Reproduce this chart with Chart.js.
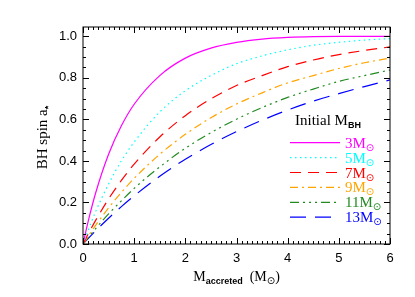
<!DOCTYPE html>
<html lang="en">
<head>
  <meta charset="UTF-8" />
  <title>BH spin vs accreted mass</title>
  <script src="https://cdn.jsdelivr.net/npm/chart.js"></script>
  <style>
    html, body { margin: 0; padding: 0; background: #fff; }
    #wrap { width: 415px; height: 297px; }
  </style>
</head>
<body>
  <div id="wrap"><canvas id="spinChart" width="415" height="297"></canvas></div>

  <script>
    // accreted mass (Msun) and BH spin for each initial BH mass
    const massAccreted = [0, 0.1, 0.25, 0.5, 0.75, 1, 1.5, 2, 2.5, 3, 3.5, 4, 4.5, 5, 5.5, 6];
    const spin3  = [0, 0.108, 0.248, 0.432, 0.569, 0.673, 0.811, 0.895, 0.943, 0.971, 0.987, 0.995, 0.999, 1.0, 1.0, 1.0];
    const spin5  = [0, 0.066, 0.158, 0.289, 0.400, 0.491, 0.636, 0.738, 0.811, 0.868, 0.906, 0.935, 0.957, 0.971, 0.982, 0.989];
    const spin7  = [0, 0.048, 0.115, 0.217, 0.306, 0.385, 0.515, 0.618, 0.699, 0.763, 0.811, 0.854, 0.886, 0.912, 0.932, 0.949];
    const spin9  = [0, 0.037, 0.091, 0.174, 0.248, 0.316, 0.432, 0.528, 0.608, 0.674, 0.728, 0.776, 0.811, 0.845, 0.873, 0.895];
    const spin11 = [0, 0.031, 0.075, 0.145, 0.208, 0.268, 0.371, 0.461, 0.536, 0.601, 0.657, 0.706, 0.746, 0.783, 0.811, 0.838];
    const spin13 = [0, 0.026, 0.064, 0.124, 0.180, 0.232, 0.326, 0.408, 0.479, 0.541, 0.596, 0.645, 0.688, 0.724, 0.758, 0.790];
    const initialMasses = [3, 5, 7, 9, 11, 13];
    const xTicks = [0, 1, 2, 3, 4, 5, 6];
    const yTicks = [0, 0.2, 0.4, 0.6, 0.8, 1.0];

    const series = [spin3, spin5, spin7, spin9, spin11, spin13];
    const colors = ['#ff00ff', '#00ffff', '#ff0000', '#ffa500', '#228b22', '#0000ff'];
    const dashes = [[], [1.5, 3.5], [11, 7], [8, 4, 2, 4], [9, 4, 2, 4, 2, 4, 2, 4], [16, 9]];

    const serif = '"Liberation Serif", "Times New Roman", serif';
    const sans = '"Liberation Sans", Arial, sans-serif';
    const sun = '10px "DejaVu Sans"';

    // draw a run of text pieces (font / baseline shift) starting at x
    function textRuns(ctx, x, y, runs, align) {
      let total = 0;
      runs.forEach(r => { ctx.font = r.font; total += ctx.measureText(r.text).width; });
      let cx = align === 'center' ? x - total / 2 : x;
      ctx.textAlign = 'left';
      ctx.textBaseline = 'alphabetic';
      runs.forEach(r => {
        ctx.font = r.font;
        ctx.fillText(r.text, cx, y + (r.dy || 0));
        cx += ctx.measureText(r.text).width;
      });
    }

    const decorations = {
      id: 'decorations',
      afterDraw(chart) {
        const { ctx, chartArea: a, scales: { x, y } } = chart;
        ctx.save();
        ctx.strokeStyle = '#000';
        ctx.lineWidth = 1;
        ctx.strokeRect(a.left, a.top, a.width, a.height);

        ctx.beginPath();
        const tickY = (v, len) => {
          const py = Math.round(y.getPixelForValue(v)) + 0.5;
          ctx.moveTo(a.left, py); ctx.lineTo(a.left + len, py);
          ctx.moveTo(a.right, py); ctx.lineTo(a.right - len, py);
        };
        const tickX = (v, len) => {
          const px = Math.round(x.getPixelForValue(v)) + 0.5;
          ctx.moveTo(px, a.bottom); ctx.lineTo(px, a.bottom - len);
          ctx.moveTo(px, a.top); ctx.lineTo(px, a.top + len);
        };
        for (let i = 0; i <= 20; i++) tickY(i * 0.05, i % 4 === 0 ? 6 : 3);
        for (let i = 0; i <= 60; i++) tickX(i * 0.1, i % 10 === 0 ? 6 : 3);
        ctx.stroke();

        ctx.fillStyle = '#000';
        // x title
        textRuns(ctx, (a.left + a.right) / 2, 281, [
          { text: 'M', font: '14px ' + serif },
          { text: 'accreted', font: 'bold 9px ' + sans, dy: 3 },
          { text: '  (M', font: '14px ' + serif },
          { text: '⊙', font: sun, dy: 3 },
          { text: ')', font: '14px ' + serif }
        ], 'center');

        // y title
        ctx.save();
        ctx.translate(46.5, (a.top + a.bottom) / 2 + 2);
        ctx.rotate(-Math.PI / 2);
        textRuns(ctx, 0, 0, [
          { text: 'BH spin a', font: '15px ' + serif },
          { text: '*', font: 'bold 9px ' + sans, dy: 4 }
        ], 'center');
        ctx.restore();

        // legend
        textRuns(ctx, 295, 125, [
          { text: 'Initial M', font: '15px ' + serif },
          { text: 'BH', font: 'bold 9px ' + sans, dy: 3 }
        ], 'left');
        chart.data.datasets.forEach((ds, i) => {
          const ly = 142.7 + i * 14.9;
          ctx.beginPath();
          ctx.strokeStyle = ds.borderColor;
          ctx.lineWidth = ds.borderWidth;
          ctx.setLineDash(ds.borderDash);
          ctx.moveTo(290, ly); ctx.lineTo(340, ly);
          ctx.stroke();
          ctx.setLineDash([]);
          ctx.fillStyle = ds.borderColor;
          textRuns(ctx, 345, ly + 5, [
            { text: initialMasses[i] + 'M', font: '15px ' + serif },
            { text: '⊙', font: sun, dy: 3 }
          ], 'left');
        });
        ctx.restore();
      }
    };

    new Chart(document.getElementById('spinChart'), {
      type: 'line',
      data: {
        datasets: series.map((s, i) => ({
          label: initialMasses[i] + 'Msun',
          data: massAccreted.map((m, j) => ({ x: m, y: s[j] })),
          borderColor: colors[i],
          borderWidth: 1.2,
          borderDash: dashes[i],
          pointRadius: 0,
          fill: false,
          cubicInterpolationMode: 'monotone'
        }))
      },
      options: {
        responsive: false,
        animation: false,
        layout: { padding: { left: 0, top: 27, right: 25, bottom: 0 } },
        plugins: { legend: { display: false }, tooltip: { enabled: false } },
        scales: {
          x: {
            type: 'linear', min: 0, max: 6,
            afterBuildTicks: s => { s.ticks = xTicks.map(v => ({ value: v })); },
            afterFit: s => { s.height = 53; },
            grid: { display: false, drawTicks: false },
            border: { display: false },
            ticks: { padding: 7, color: '#000', font: { family: sans, size: 13 }, maxRotation: 0 }
          },
          y: {
            type: 'linear', min: 0, max: 1.045,
            afterBuildTicks: s => { s.ticks = yTicks.map(v => ({ value: v })); },
            afterFit: s => { s.width = 83; },
            grid: { display: false, drawTicks: false },
            border: { display: false },
            ticks: { padding: 6, color: '#000', font: { family: sans, size: 13 }, callback: v => v.toFixed(1) }
          }
        }
      },
      plugins: [decorations]
    });
  </script>
</body>
</html>
